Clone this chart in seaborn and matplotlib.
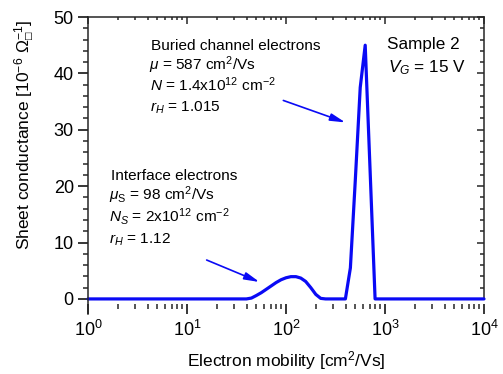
import numpy as np
import pandas as pd
import matplotlib
matplotlib.use('Agg')
import matplotlib.pyplot as plt
from matplotlib.ticker import MultipleLocator, NullFormatter
import seaborn as sns

# mobility distribution
mobility = [1, 39.8, 44.7, 50.1, 56.2, 63.1, 70.8, 79.4, 89.1, 100, 112, 126,
            141, 158, 178, 200, 224, 251, 398, 447, 501, 562, 631, 708, 794, 10000]
conductance = [0, 0, 0.15, 0.6, 1.1, 1.7, 2.3, 2.9, 3.4, 3.75, 3.95, 3.95,
               3.7, 3.1, 2.0, 0.8, 0.1, 0, 0, 5.5, 21, 37.5, 45, 22.5, 0, 0]

# arrow start / end in data units
arrow_interface = [(15.8, 6.9), (54, 3.0)]
arrow_buried = [(94, 35.2), (398, 31.3)]

line_colour = '#0A0AF5'
font_colour = '#000000'

sns.set_style('ticks')
plt.rcParams['font.family'] = ['Liberation Sans', 'DejaVu Sans']
plt.rcParams['mathtext.fontset'] = 'custom'
plt.rcParams['mathtext.rm'] = 'Liberation Sans'
plt.rcParams['mathtext.it'] = 'Liberation Sans:italic'
plt.rcParams['mathtext.bf'] = 'Liberation Sans:bold'
plt.rcParams['text.color'] = font_colour
fs = 11.1      # annotation text
fs_sample = 12.3
fs_tick = 13
fs_label = 12.5

df = pd.DataFrame({'mobility': mobility, 'conductance': conductance})

fig = plt.figure(figsize=(5.03, 3.74), dpi=100)
ax = fig.add_axes([88 / 503, 1 - 304 / 374, 396 / 503, 287 / 374])

sns.lineplot(data=df, x='mobility', y='conductance', ax=ax, color=line_colour,
             linewidth=2.3, sort=False, clip_on=False)

ax.set_xscale('log')
ax.set_xlim(1, 1e4)
ax.set_ylim(-0.9, 50)
ax.yaxis.set_major_locator(MultipleLocator(10))
ax.yaxis.set_minor_locator(MultipleLocator(2))
ax.set_xlabel('')
ax.set_ylabel('')

for s in ['top', 'right', 'bottom']:
    ax.spines[s].set_visible(False)
ax.spines['left'].set_linewidth(1.1)
ax.spines['left'].set_bounds(-2.6, 50)

ax.tick_params(which='major', direction='out', length=7.2, width=1.1,
               labelsize=fs_tick, colors='black', pad=3)
ax.tick_params(which='minor', direction='out', length=3.6, width=1.1)
ax.tick_params(axis='x', which='major', pad=4)

# mirrored axes, ticks pointing in
ax_top = ax.secondary_xaxis('top')
ax_top.tick_params(which='major', direction='in', length=5, width=1.1, labeltop=False)
ax_top.tick_params(which='minor', direction='in', length=2.5, width=1.1)
ax_top.xaxis.set_minor_formatter(NullFormatter())
ax_top.spines['top'].set_linewidth(1.1)

ax_r = ax.secondary_yaxis('right')
ax_r.yaxis.set_major_locator(MultipleLocator(10))
ax_r.yaxis.set_minor_locator(MultipleLocator(2))
ax_r.tick_params(which='major', direction='in', length=5, width=1.1, labelright=False)
ax_r.tick_params(which='minor', direction='in', length=3, width=1.1)
ax_r.spines['right'].set_linewidth(1.1)
ax_r.spines['right'].set_bounds(0, 50)

# axis labels
fig.text(286 / 503, 1 - 366 / 374, 'Electron mobility [cm$^2$/Vs]',
         ha='center', va='baseline', fontsize=fs_label)
fig.text(25 / 503, 1 - 135 / 374,
         'Sheet conductance [10$^{-6}$ $\\Omega_{\u25a1}^{-1}$]',
         rotation=90, ha='center', va='center', fontsize=fs_label)


def put(px, py, s, size=fs):
    fig.text(px / 503, 1 - py / 374, s, ha='left', va='baseline', fontsize=size)


put(151, 49.5, 'Buried channel electrons')
put(149, 70.5, r'$\mu$ = 587 cm$^2$/Vs')
put(150, 91.5, r'$N$ = 1.4x10$^{12}$ cm$^{\rm{-}2}$')
put(150, 111.5, r'$r_H$ = 1.015')

put(111, 179.5, 'Interface electrons')
put(109, 199.5, r'$\mu_{\rm S}$ = 98 cm$^2$/Vs')
put(109, 221.5, r'$N_S$ = 2x10$^{12}$ cm$^{\rm{-}2}$')
put(109, 244, r'$r_H$ = 1.12')

put(387, 48.5, 'Sample 2', fs_sample)
put(388, 72.5, r'$V_G$ = 15 V', fs_sample)

for (x0, y0), (x1, y1) in [arrow_interface, arrow_buried]:
    ax.annotate('', xy=(x1, y1), xytext=(x0, y0),
                arrowprops=dict(arrowstyle='-|>,head_length=0.9,head_width=0.22',
                                color=line_colour, lw=1.2, shrinkA=0, shrinkB=0))

plt.savefig('out.png', dpi=100)
